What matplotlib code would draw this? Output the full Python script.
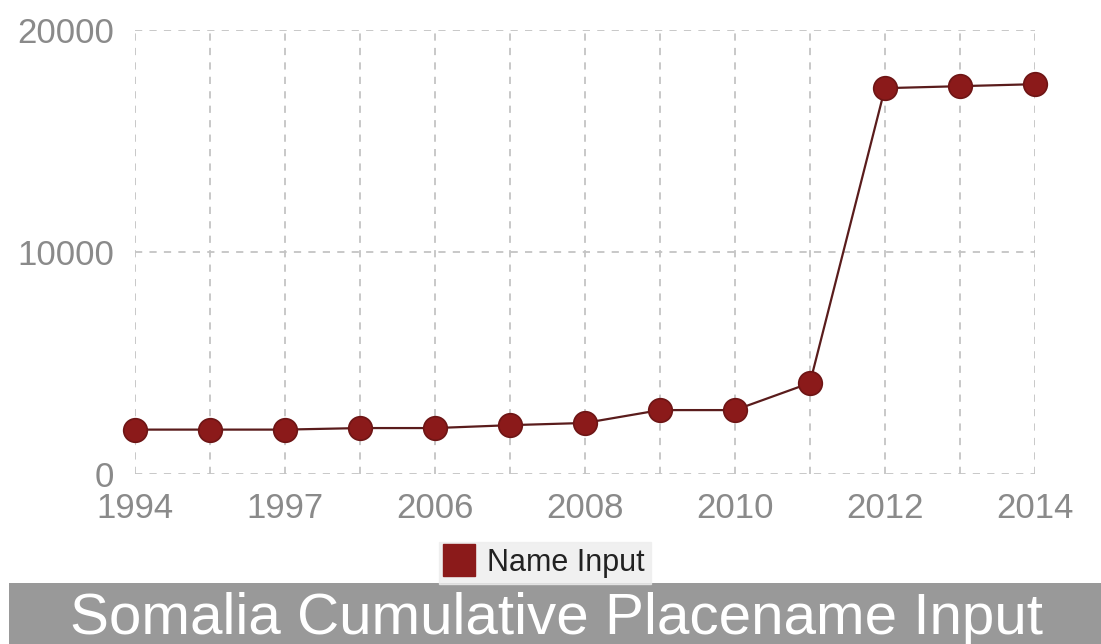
import matplotlib
matplotlib.use("Agg")
import matplotlib.pyplot as plt
from matplotlib.patches import Rectangle
from matplotlib.lines import Line2D

# data
years = ['1994', '1996', '1997', '2000', '2006', '2007', '2008',
         '2009', '2010', '2011', '2012', '2013', '2014']
name_input = [2000, 2000, 2000, 2070, 2070, 2200, 2300,
              2880, 2880, 4100, 17390, 17480, 17570]
y_ticks = [0, 10000, 20000]

plt.rcParams['font.family'] = ['Liberation Sans', 'DejaVu Sans']

fig = plt.figure(figsize=(11.01, 6.44), dpi=100)
ax = fig.add_axes([0.1226, 0.264, 0.8174, 0.689])

xs = list(range(len(years)))
ax.plot(xs, name_input, '-', color='#5a1c1c', lw=1.6, zorder=3)
ax.plot(xs, name_input, 'o', color='#8b1a1a', markersize=17,
        markeredgecolor='#6e1515', markeredgewidth=1.2, zorder=4, clip_on=False)

ax.set_xlim(0, len(years) - 1)
ax.set_ylim(0, 20000)
ax.set_xticks(xs)
ax.set_xticklabels([y if i % 2 == 0 else '' for i, y in enumerate(years)])
ax.set_yticks(y_ticks)
ax.set_yticklabels([str(v) for v in y_ticks])

for s in ax.spines.values():
    s.set_visible(False)
ax.grid(True, color='#c4c4c4', linestyle=(0, (4, 4)), lw=1.3)
ax.tick_params(length=0, labelsize=25, labelcolor='#8a8a8a')
ax.tick_params(axis='x', pad=13)
ax.tick_params(axis='y', pad=15)

# legend
handle = Line2D([], [], marker='s', color='none', markerfacecolor='#8b1a1a',
                markeredgecolor='#8b1a1a', markersize=23)
leg = fig.legend([handle], ['Name Input'], loc='center',
                 bbox_to_anchor=(0.495, 0.126), frameon=True, fontsize=22,
                 handlelength=0.9, handletextpad=0.45, borderpad=0.2,
                 fancybox=False)
leg.get_frame().set_facecolor('#ededed')
leg.get_frame().set_edgecolor('#ededed')
for t in leg.get_texts():
    t.set_color('#222222')

# title bar
fig.patches.append(Rectangle((0.008, 0.0), 0.992, 0.095, transform=fig.transFigure,
                             facecolor='#999999', edgecolor='none', zorder=0))
fig.text(0.505, 0.039, 'Somalia Cumulative Placename Input', color='white',
         fontsize=42, ha='center', va='center')

fig.savefig('out.png', dpi=100)
